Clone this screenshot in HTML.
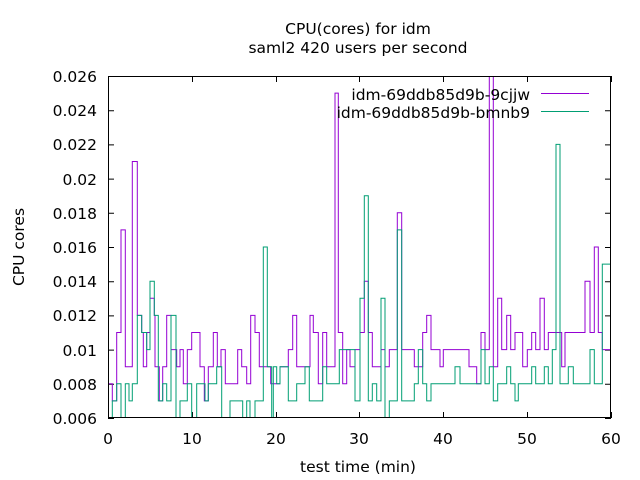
<!DOCTYPE html>
<html><head><meta charset="utf-8"><style>
html,body{margin:0;padding:0;background:#fff;width:640px;height:480px;overflow:hidden}
svg{display:block}
text{font-family:"DejaVu Sans","Liberation Sans",sans-serif;font-size:15.5px;fill:#000}
</style></head><body>
<svg id="s" width="640" height="480" viewBox="0 0 640 480">
<defs><clipPath id="c"><rect x="108" y="76" width="503" height="342"/></clipPath></defs>
<text x="358" y="34" text-anchor="middle">CPU(cores) for idm</text>
<text x="358" y="53" text-anchor="middle">saml2 420 users per second</text>
<g text-anchor="end">
<text x="97" y="424">0.006</text><text x="97" y="390">0.008</text><text x="97" y="356">0.01</text>
<text x="97" y="321">0.012</text><text x="97" y="287">0.014</text><text x="97" y="253">0.016</text>
<text x="97" y="219">0.018</text><text x="97" y="185">0.02</text><text x="97" y="150">0.022</text>
<text x="97" y="116">0.024</text><text x="97" y="82">0.026</text>
</g>
<g text-anchor="middle">
<text x="108" y="444">0</text><text x="192" y="444">10</text><text x="276" y="444">20</text>
<text x="359" y="444">30</text><text x="443" y="444">40</text><text x="527" y="444">50</text><text x="611" y="444">60</text>
<text x="358" y="472">test time (min)</text>
</g>
<text transform="translate(24,247) rotate(-90)" text-anchor="middle">CPU cores</text>
<g id="ticks" stroke="#000" stroke-width="1"></g>
<g clip-path="url(#c)" fill="none" stroke-width="1">
<path id="p1" stroke="#9400d3"/>
<path id="p2" stroke="#009e73"/>
</g>
<rect x="108.5" y="76.5" width="502" height="341" fill="none" stroke="#000"/>
<text x="530" y="100" text-anchor="end">idm-69ddb85d9b-9cjjw</text>
<text x="530" y="118" text-anchor="end">idm-69ddb85d9b-bmnb9</text>
<line x1="541" y1="93.5" x2="589" y2="93.5" stroke="#9400d3"/>
<line x1="541" y1="111.5" x2="589" y2="111.5" stroke="#009e73"/>
</svg>
<script>
var Y=function(v){return 418-(v-6)*17.1;};
var A1=[[24,8],[37,7],[50,11],[63,17],[76,9],[97,21],[112,12],[125,11],[130,9],[140,11],[150,13],[163,12],[165,9],[178,7],[188,9],[200,12],[213,10],[230,9],[240,10],[250,8],[262,10],[275,11],[300,9],[313,7],[325,9],[340,11],[352,9],[363,10],[376,8],[413,10],[425,9],[440,8],[452,12],[465,11],[478,9],[512,8],[540,9],[565,10],[578,12],[590,9],[630,12],[640,11],[655,8],[668,11],[680,9],[705,25],[715,11],[728,8],[740,10],[750,9]];
var B1=[[0,10],[15,11],[28,14],[40,11],[52,9],[78,10],[90,9],[103,10],[127,18],[140,10],[178,9],[203,11],[215,12],[228,10],[255,9],[265,10],[342,9],[365,8],[378,11],[390,10],[403,28],[415,9],[428,13],[440,10],[455,12],[467,10],[480,11],[503,9],[517,10],[530,11],[542,10],[555,13],[568,10],[580,11],[620,9],[630,11],[690,14],[705,11],[718,16],[730,11],[742,10],[770,10]];
var A2=[[24,6],[37,7],[50,8],[63,6],[76,8],[87,7],[97,8],[112,12],[125,11],[140,10],[150,14],[163,12],[175,7],[188,8],[200,7],[213,12],[228,6],[240,7],[262,8],[275,6],[290,8],[315,7],[325,8],[350,9],[365,6],[390,7],[428,6],[440,7],[450,6],[465,7],[490,16],[502,9],[515,6],[520,9],[530,8],[540,9],[565,7],[590,8],[615,9],[628,7],[668,9],[680,8],[718,10]];
var B2=[[0,7],[15,13],[28,19],[40,7],[52,8],[65,7],[78,13],[90,5.5],[103,7],[127,17],[140,7],[178,8],[190,10],[203,8],[215,7],[228,8],[300,9],[315,8],[378,10],[390,8],[403,9],[415,7],[428,8],[455,9],[467,8],[480,7],[490,8],[530,9],[542,8],[568,9],[580,8],[592,10],[603,22],[615,8],[640,9],[655,8],[705,10],[718,8],[742,15],[770,15]];
function build(a,b){var pts=[];a.forEach(function(p){pts.push([100+p[0]/3,p[1]]);});b.forEach(function(p){pts.push([355+p[0]/3,p[1]]);});
var d="M"+pts[0][0].toFixed(1)+" "+Y(pts[0][1]).toFixed(1);
for(var i=1;i<pts.length;i++){d+=" H"+pts[i][0].toFixed(1)+" V"+Y(pts[i][1]).toFixed(1);}return d;}
document.getElementById("p1").setAttribute("d",build(A1,B1));
document.getElementById("p2").setAttribute("d",build(A2,B2));
var t="";
for(var i=0;i<=10;i++){var y=(418-i*34.2)+0.5;t+="M108 "+y+" h6 M611 "+y+" h-6 ";}
for(var j=0;j<=6;j++){var x=Math.round(108+j*83.83)+0.5;t+="M"+x+" 418 v-6 M"+x+" 76 v6 ";}
var p=document.createElementNS("http://www.w3.org/2000/svg","path");p.setAttribute("d",t);
document.getElementById("ticks").appendChild(p);
</script>
</body></html>
